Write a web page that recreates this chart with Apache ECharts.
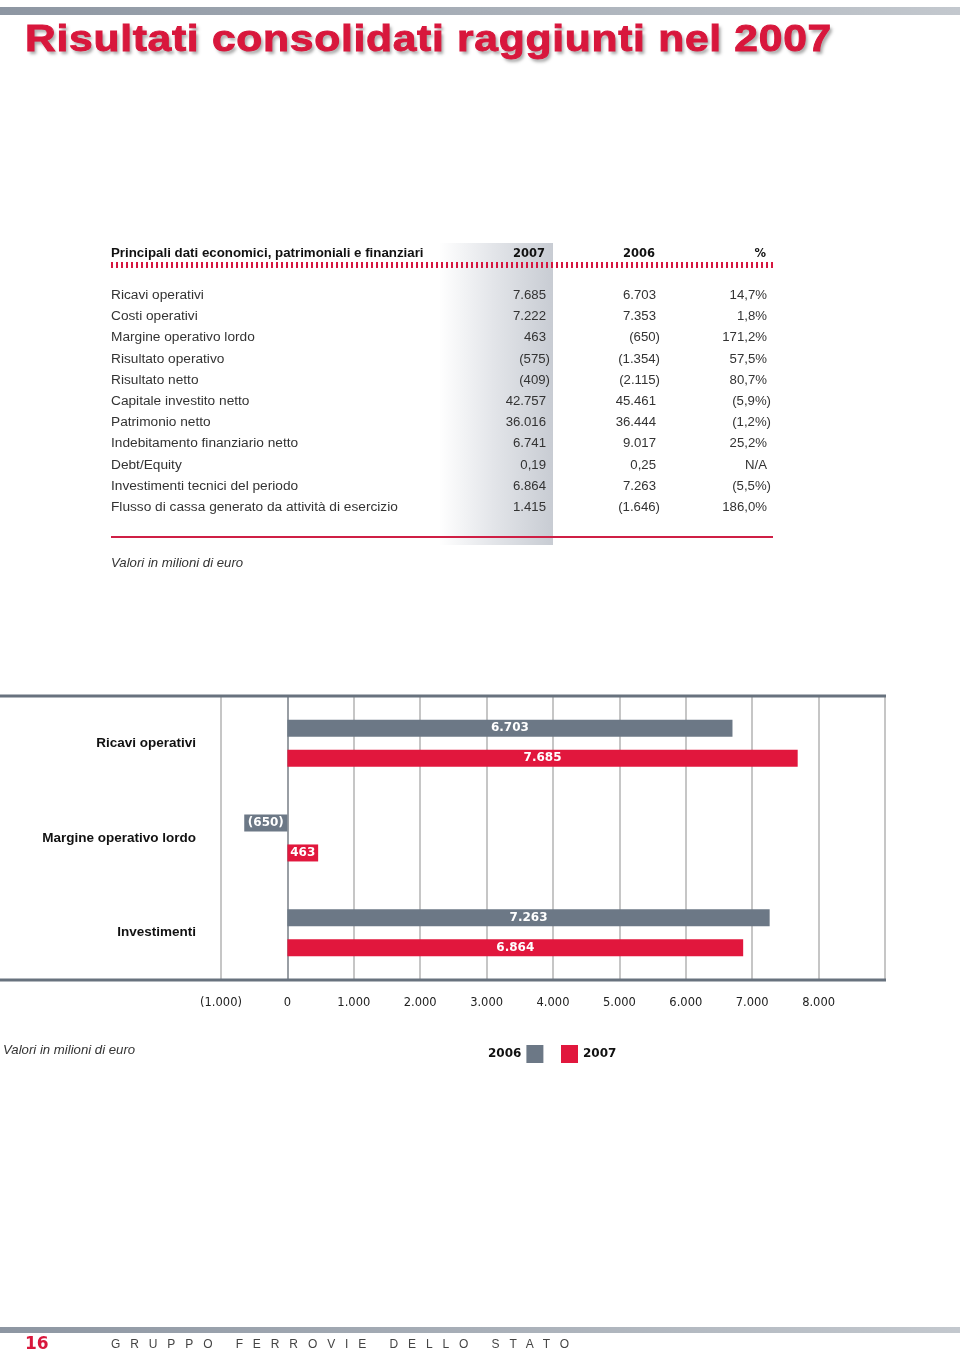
<!DOCTYPE html>
<html><head><meta charset="utf-8">
<script src="https://cdn.jsdelivr.net/npm/echarts@6/dist/echarts.min.js"></script>
<style>
html,body{margin:0;padding:0;background:#fff;}
#page{position:relative;width:960px;height:1355px;overflow:hidden;font-family:"Liberation Sans",Arial,sans-serif;}
#chart{position:absolute;left:0;top:0;width:960px;height:1355px;}
.t{position:absolute;white-space:nowrap;line-height:18px;height:18px;color:#333;}
</style></head><body>
<div id="page">
<div id="chart"></div>
<div style="position:absolute;left:0;top:7px;width:960px;height:8px;background:linear-gradient(to right,#8d96a2,#c3c8ce);"></div>
<div style="position:absolute;left:440px;top:243px;width:113px;height:302px;background:linear-gradient(to right,rgba(255,255,255,0) 0%,#e4e6ea 45%,#c8ccd3 100%);"></div>
<div style="position:absolute;left:111px;top:262px;width:662px;height:6px;background:repeating-linear-gradient(to right,#d6173f 0px,#d6173f 2px,transparent 2px,transparent 5px);"></div>
<div style="position:absolute;left:111px;top:536px;width:662px;height:2px;background:#cf1f45;"></div>
<div style="position:absolute;left:0;top:1327px;width:960px;height:6px;background:linear-gradient(to right,#8d96a2,#c3c8ce);"></div>
<div id="texts"></div>
</div>
<script>
// ---- table data ----
const tableTitle = "Principali dati economici, patrimoniali e finanziari";
const tableHeaders = ["2007", "2006", "%"];
const rowLabels = ["Ricavi operativi","Costi operativi","Margine operativo lordo","Risultato operativo","Risultato netto","Capitale investito netto","Patrimonio netto","Indebitamento finanziario netto","Debt/Equity","Investimenti tecnici del periodo","Flusso di cassa generato da attività di esercizio"];
const col2007 = ["7.685","7.222","463","(575)","(409)","42.757","36.016","6.741","0,19","6.864","1.415"];
const col2006 = ["6.703","7.353","(650)","(1.354)","(2.115)","45.461","36.444","9.017","0,25","7.263","(1.646)"];
const colPct = ["14,7%","1,8%","171,2%","57,5%","80,7%","(5,9%)","(1,2%)","25,2%","N/A","(5,5%)","186,0%"];
// ---- chart data ----
const categories = ["Ricavi operativi","Margine operativo lordo","Investimenti"];
const values2006 = [6703, -650, 7263];
const values2007 = [7685, 463, 6864];
const seriesNames = ["2006", "2007"];

const GRAY = '#6c7886', RED = '#e1173d';

const texts = document.getElementById('texts');
function put(txt, x, y, align, style){
  const d = document.createElement('div');
  d.className = 't';
  d.textContent = txt;
  d.style.top = (y - 9) + 'px';
  if (align === 'right') d.style.right = (960 - x) + 'px'; else d.style.left = x + 'px';
  if (style) d.style.cssText += style;
  texts.appendChild(d);
  return d;
}
// title
put("Risultati consolidati raggiunti nel 2007", 25, 38, 'left',
  "font-size:36px;line-height:44px;height:44px;top:17px;font-weight:bold;color:#d8173c;letter-spacing:0.6px;-webkit-text-stroke:0.9px #d8173c;text-shadow:2px 3px 3px rgba(0,0,0,0.35);transform:scaleX(1.183);transform-origin:0 50%;");
// table header
const hdrStyle = "font-size:13.3px;font-weight:bold;color:#111;";
put(tableTitle, 111, 253, 'left', hdrStyle);
const colRight = [546, 656, 767];
tableHeaders.forEach((h,i)=>put(h, colRight[i]-1, 253, 'right', "font-weight:bold;color:#111;font-family:'DejaVu Sans';font-size:11.5px;"));
const cols = [col2007, col2006, colPct];
const rowStyle = "font-size:13.7px;color:#333;";
rowLabels.forEach((lab, r) => {
  const y = 295 + r * 21.2;
  put(lab, 111, y, 'left', rowStyle);
  cols.forEach((c, i) => {
    const v = c[r];
    const x = v.endsWith(')') ? colRight[i] + 4 : colRight[i];
    put(v, x, y, 'right', "font-size:13.2px;color:#333;");
  });
});
put("Valori in milioni di euro", 111, 563, 'left', "font-size:13.2px;font-style:italic;color:#333;");
put("Valori in milioni di euro", 3, 1050, 'left', "font-size:13.2px;font-style:italic;color:#333;");
// footer
put("16", 25, 1343, 'left', "font-family:'DejaVu Sans';font-weight:bold;font-size:17px;color:#d8173c;line-height:20px;height:20px;top:1333px;");
put("GRUPPO FERROVIE DELLO STATO", 111, 1344, 'left', "font-size:12px;color:#444;letter-spacing:9.9px;");

function fmt(v){
  const s = Math.abs(v).toString().replace(/\B(?=(\d{3})+(?!\d))/g, '.');
  return v < 0 ? '(' + s + ')' : s;
}

const chart = echarts.init(document.getElementById('chart'), null, {renderer:'canvas'});
const barLabel = {show:true, position:'inside', color:'#fff', fontWeight:'bold', fontFamily:'DejaVu Sans', fontSize:12, formatter: p => fmt(p.value)};
const legendText = {color:'#111', fontWeight:'bold', fontFamily:'DejaVu Sans', fontSize:12};
chart.setOption({
  animation:false,
  grid:{left:221, right:75, top:696, bottom:375},
  xAxis:{type:'value', min:-1000, max:9000, interval:1000,
    axisLine:{show:false}, axisTick:{show:false},
    splitLine:{show:true, lineStyle:{color:'#b3b3b3', width:1.5}},
    axisLabel:{margin:17, color:'#222', fontFamily:'DejaVu Sans', fontSize:11.5, formatter: v => v === 9000 ? '' : fmt(v)}},
  yAxis:{type:'category', data:categories, inverse:true,
    axisLine:{show:true, onZero:true, lineStyle:{color:'#8a9099', width:1.5}}, axisTick:{show:false},
    axisLabel:{margin:25, color:'#111', fontWeight:'bold', fontFamily:'Liberation Sans', fontSize:13.5}},
  legend:[
    {data:[seriesNames[0]], left:483, top:1040, align:'right', icon:'rect', itemWidth:17, itemHeight:18, textStyle:legendText, selectedMode:false},
    {data:[seriesNames[1]], left:556, top:1040, align:'left', icon:'rect', itemWidth:17, itemHeight:18, textStyle:legendText, selectedMode:false}
  ],
  series:[
    {name:seriesNames[0], type:'bar', data:values2006, barWidth:17, barGap:'76%', itemStyle:{color:GRAY}, label:barLabel},
    {name:seriesNames[1], type:'bar', data:values2007, barWidth:17, barGap:'76%', itemStyle:{color:RED}, label:barLabel}
  ],
  graphic:[
    {type:'line', z:100, shape:{x1:0, y1:696, x2:886, y2:696}, style:{stroke:'#68727e', lineWidth:3}},
    {type:'line', z:100, shape:{x1:0, y1:980, x2:886, y2:980}, style:{stroke:'#68727e', lineWidth:3}}
  ]
});
</script>
</body></html>
